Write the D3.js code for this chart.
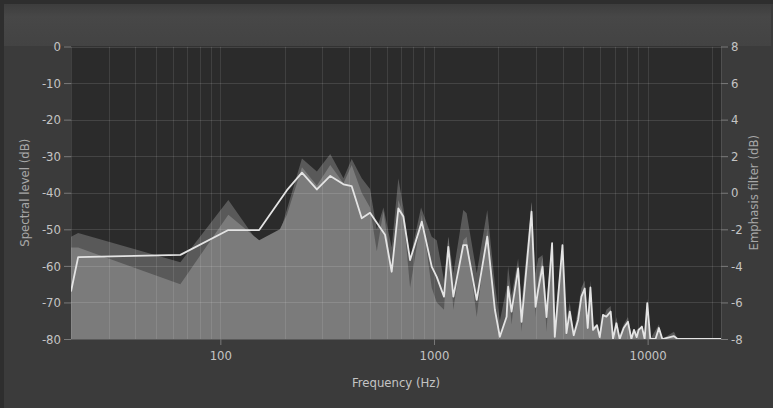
<!DOCTYPE html>
<html><head><meta charset="utf-8">
<script src="https://cdn.jsdelivr.net/npm/d3@7"></script>
<style>
html,body{margin:0;padding:0;background:#3b3b3b;}
svg{display:block;}
</style></head>
<body>
<svg id="chart" width="773" height="408"></svg>
<script>
// ---- data ----
const xTickValues = [100, 1000, 10000];
const leftTicks = [0, -10, -20, -30, -40, -50, -60, -70, -80];
const rightTicks = [8, 6, 4, 2, 0, -2, -4, -6, -8];

// peak-hold spectrum (dark grey area)
const peakFreq = [20, 21.6, 65, 109, 152, 190, 241, 283, 327, 377, 412, 459, 502, 540, 580, 634, 681, 719, 773, 870, 976, 1030, 1114, 1167, 1232, 1371, 1422, 1585, 1776, 1928, 2034, 2187, 2224, 2307, 2477, 2570, 2862, 2988, 3072, 3221, 3363, 3571, 3676, 3994, 4169, 4320, 4510, 4724, 4898, 5076, 5243, 5398, 5553, 5968, 6412, 6714, 6886, 7141, 7396, 7724, 8091, 8393, 9080, 9683, 9962, 10295, 11290, 11716, 13280, 13800, 22050];
const peakDb = [-52, -51, -59, -42, -54, -51, -30.6, -34.2, -29.4, -36, -30.8, -36, -39, -50, -44, -55, -36, -44, -58, -44, -52, -53, -64, -52, -62, -44.7, -45.6, -62, -44.7, -65, -75, -66, -60, -68, -58, -70, -42.5, -62, -58, -57, -70, -53.4, -75, -54, -75, -70, -78, -72, -66, -64, -75, -64, -76, -78, -72, -71, -79, -74, -79, -76, -74, -79, -77, -79, -69, -80, -76, -80, -78, -80, -80];

// current spectrum (light grey area)
const levelFreq = [20, 21.6, 65, 109, 152, 190, 205, 241, 283, 327, 377, 412, 459, 502, 540, 580, 610, 634, 681, 719, 773, 877, 976, 1030, 1114, 1167, 1232, 1371, 1422, 1585, 1776, 1928, 2034, 2187, 2224, 2307, 2477, 2570, 2862, 2988, 3072, 3221, 3363, 3571, 3676, 3994, 4169, 4320, 4510, 4724, 4898, 5076, 5243, 5398, 5553, 5794, 5968, 6180, 6412, 6714, 6886, 7141, 7396, 7724, 8091, 8393, 8634, 8885, 9080, 9402, 9683, 9962, 10295, 10887, 11290, 11716, 13280, 13800, 22050];
const levelDb = [-55, -55, -65, -46, -53, -50, -46, -33, -38, -32.4, -37.4, -32.4, -40, -44, -56, -45, -54, -62, -42, -46, -66, -46, -66, -70, -72, -52, -72, -53, -52, -74, -50, -72, -80, -74, -64, -76, -60, -78, -42.5, -74, -64, -57.5, -78, -53.4, -80, -54, -79, -72, -79.5, -74.8, -68, -66, -77, -65.9, -77.5, -76.2, -79.5, -73.4, -73.9, -72.5, -80, -75.7, -80, -77, -75.3, -80, -77.5, -79.5, -77.5, -76.6, -80, -70.2, -80, -80, -77, -80, -79.2, -80, -80];

// smoothed spectrum (white line)
const lineFreq = [20, 21.6, 65, 109, 152, 205, 241, 283, 327, 377, 412, 459, 502, 560, 590, 634, 681, 719, 773, 877, 976, 1030, 1114, 1167, 1232, 1371, 1422, 1585, 1776, 1928, 2034, 2187, 2224, 2307, 2477, 2570, 2862, 2988, 3072, 3221, 3363, 3571, 3676, 3994, 4169, 4320, 4510, 4724, 4898, 5076, 5243, 5398, 5553, 5794, 5968, 6180, 6412, 6714, 6886, 7141, 7396, 7724, 8091, 8393, 8634, 8885, 9080, 9402, 9683, 9962, 10295, 10887, 11290, 11716, 13280, 13800, 22050];
const lineDb = [-67, -57.6, -57, -50.2, -50.2, -39.3, -34.5, -39.1, -35.4, -37.7, -38.2, -47, -45.5, -49.6, -51.5, -61.6, -44.3, -46.5, -58.4, -47.9, -60.2, -63, -68.4, -54.8, -68.4, -54.3, -54.3, -69.3, -52, -72, -79.4, -73.9, -65.7, -72.5, -60.7, -75.3, -45.2, -71.2, -66.6, -60.2, -74, -53.8, -79.4, -54.3, -78.4, -72.5, -79, -74.8, -68.4, -66.2, -77, -65.9, -77.5, -76.2, -79.5, -73.4, -73.9, -72.5, -80, -75.7, -80, -77, -75.3, -80, -77.5, -79.5, -77.5, -76.6, -80, -70.2, -80, -80, -77, -80, -79.2, -80, -80];

// ---- drawing ----
const svg = d3.select("#chart");
const W = 773, H = 408;
const L = 71, R = 721, T = 46.5, B = 339;

const defs = svg.append("defs");
const g1 = defs.append("linearGradient").attr("id","topgrad").attr("x1",0).attr("y1",0).attr("x2",0).attr("y2",1);
g1.append("stop").attr("offset","0%").attr("stop-color","#3d3d3d");
g1.append("stop").attr("offset","30%").attr("stop-color","#474747");
g1.append("stop").attr("offset","100%").attr("stop-color","#434343");
defs.append("clipPath").attr("id","plotclip").append("rect")
  .attr("x",L).attr("y",T).attr("width",R-L).attr("height",B-T);

// frame
svg.append("rect").attr("x",0).attr("y",0).attr("width",W).attr("height",H).attr("fill","#3b3b3b");
svg.append("rect").attr("x",4).attr("y",4).attr("width",W-6).attr("height",42).attr("fill","url(#topgrad)");
svg.append("rect").attr("x",0).attr("y",0).attr("width",W).attr("height",4).attr("fill","#2e2e2e");
svg.append("rect").attr("x",0).attr("y",0).attr("width",4).attr("height",H).attr("fill","#2e2e2e");

const x = d3.scaleLog().domain([20, 22050]).range([L, R]);
const yL = d3.scaleLinear().domain([-80, 0]).range([B, T]);
const yR = d3.scaleLinear().domain([-8, 8]).range([B, T]);

// plot background
svg.append("rect").attr("x",L).attr("y",T).attr("width",R-L).attr("height",B-T).attr("fill","#2b2b2b");

const plot = svg.append("g").attr("clip-path","url(#plotclip)");

const mk = (fs, vs) => fs.map((f,i)=>({f, v: vs[i]}));
const area = d3.area().x(d=>x(d.f)).y0(yL(-80)).y1(d=>yL(d.v)).curve(d3.curveLinear);
const line = d3.line().x(d=>x(d.f)).y(d=>yL(d.v)).curve(d3.curveLinear);

plot.append("path").datum(mk(peakFreq, peakDb)).attr("d", area).attr("fill","#595959");
plot.append("path").datum(mk(levelFreq, levelDb)).attr("fill","#7b7b7b").attr("d", area);

// grid
const gridX = [];
[10,100,1000,10000].forEach(dec => { for (let k=1;k<10;k++){ const v=dec*k; if (v>=20 && v<=22050) gridX.push(v);} });
plot.append("g").selectAll("line").data(gridX).join("line")
  .attr("x1",d=>Math.round(x(d))+0.5).attr("x2",d=>Math.round(x(d))+0.5).attr("y1",T).attr("y2",B)
  .attr("stroke","rgba(255,255,255,0.1)").attr("stroke-width",1);
plot.append("g").selectAll("line").data(leftTicks).join("line")
  .attr("x1",L).attr("x2",R).attr("y1",d=>Math.round(yL(d))+0.5).attr("y2",d=>Math.round(yL(d))+0.5)
  .attr("stroke","rgba(255,255,255,0.12)").attr("stroke-width",1.2);

plot.append("path").datum(mk(lineFreq, lineDb)).attr("d", line)
  .attr("fill","none").attr("stroke","#e4e4e4").attr("stroke-width",1.8).attr("stroke-linejoin","round");

// plot border
svg.append("line").attr("x1",L).attr("x2",R).attr("y1",B+0.5).attr("y2",B+0.5).attr("stroke","#5a5a5a");
svg.append("line").attr("x1",R+0.5).attr("x2",R+0.5).attr("y1",T).attr("y2",B).attr("stroke","#505050");

const font = "'DejaVu Sans Condensed', 'DejaVu Sans', sans-serif";
const fmt = d => String(d);

// left axis
const axL = svg.append("g").attr("transform",`translate(${L},0)`)
  .call(d3.axisLeft(yL).tickValues(leftTicks).tickSize(7).tickPadding(3).tickFormat(fmt));
// right axis
const axR = svg.append("g").attr("transform",`translate(${R},0)`)
  .call(d3.axisRight(yR).tickValues(rightTicks).tickSize(7).tickPadding(3).tickFormat(fmt));
// bottom axis
const axB = svg.append("g").attr("transform",`translate(0,${B})`)
  .call(d3.axisBottom(x).tickValues(xTickValues).tickSize(6).tickPadding(6).tickFormat(fmt));
[axL, axR, axB].forEach(a => {
  a.select(".domain").remove();
  a.selectAll(".tick line").attr("stroke","#7a7a7a");
  a.selectAll(".tick text").attr("fill","#c4c4c4").style("font-family",font).style("font-size","13px");
});

// titles
svg.append("text").attr("x",(L+R)/2).attr("y",387).attr("text-anchor","middle")
  .attr("fill","#c4c4c4").style("font-family",font).style("font-size","13px").text("Frequency (Hz)");
svg.append("text").attr("transform",`translate(29,${(T+B)/2}) rotate(-90)`).attr("text-anchor","middle")
  .attr("fill","#a8a8a8").style("font-family",font).style("font-size","13px").text("Spectral level (dB)");
svg.append("text").attr("transform",`translate(758,${(T+B)/2}) rotate(-90)`).attr("text-anchor","middle")
  .attr("fill","#a8a8a8").style("font-family",font).style("font-size","13px").text("Emphasis filter (dB)");
</script>
</body></html>
